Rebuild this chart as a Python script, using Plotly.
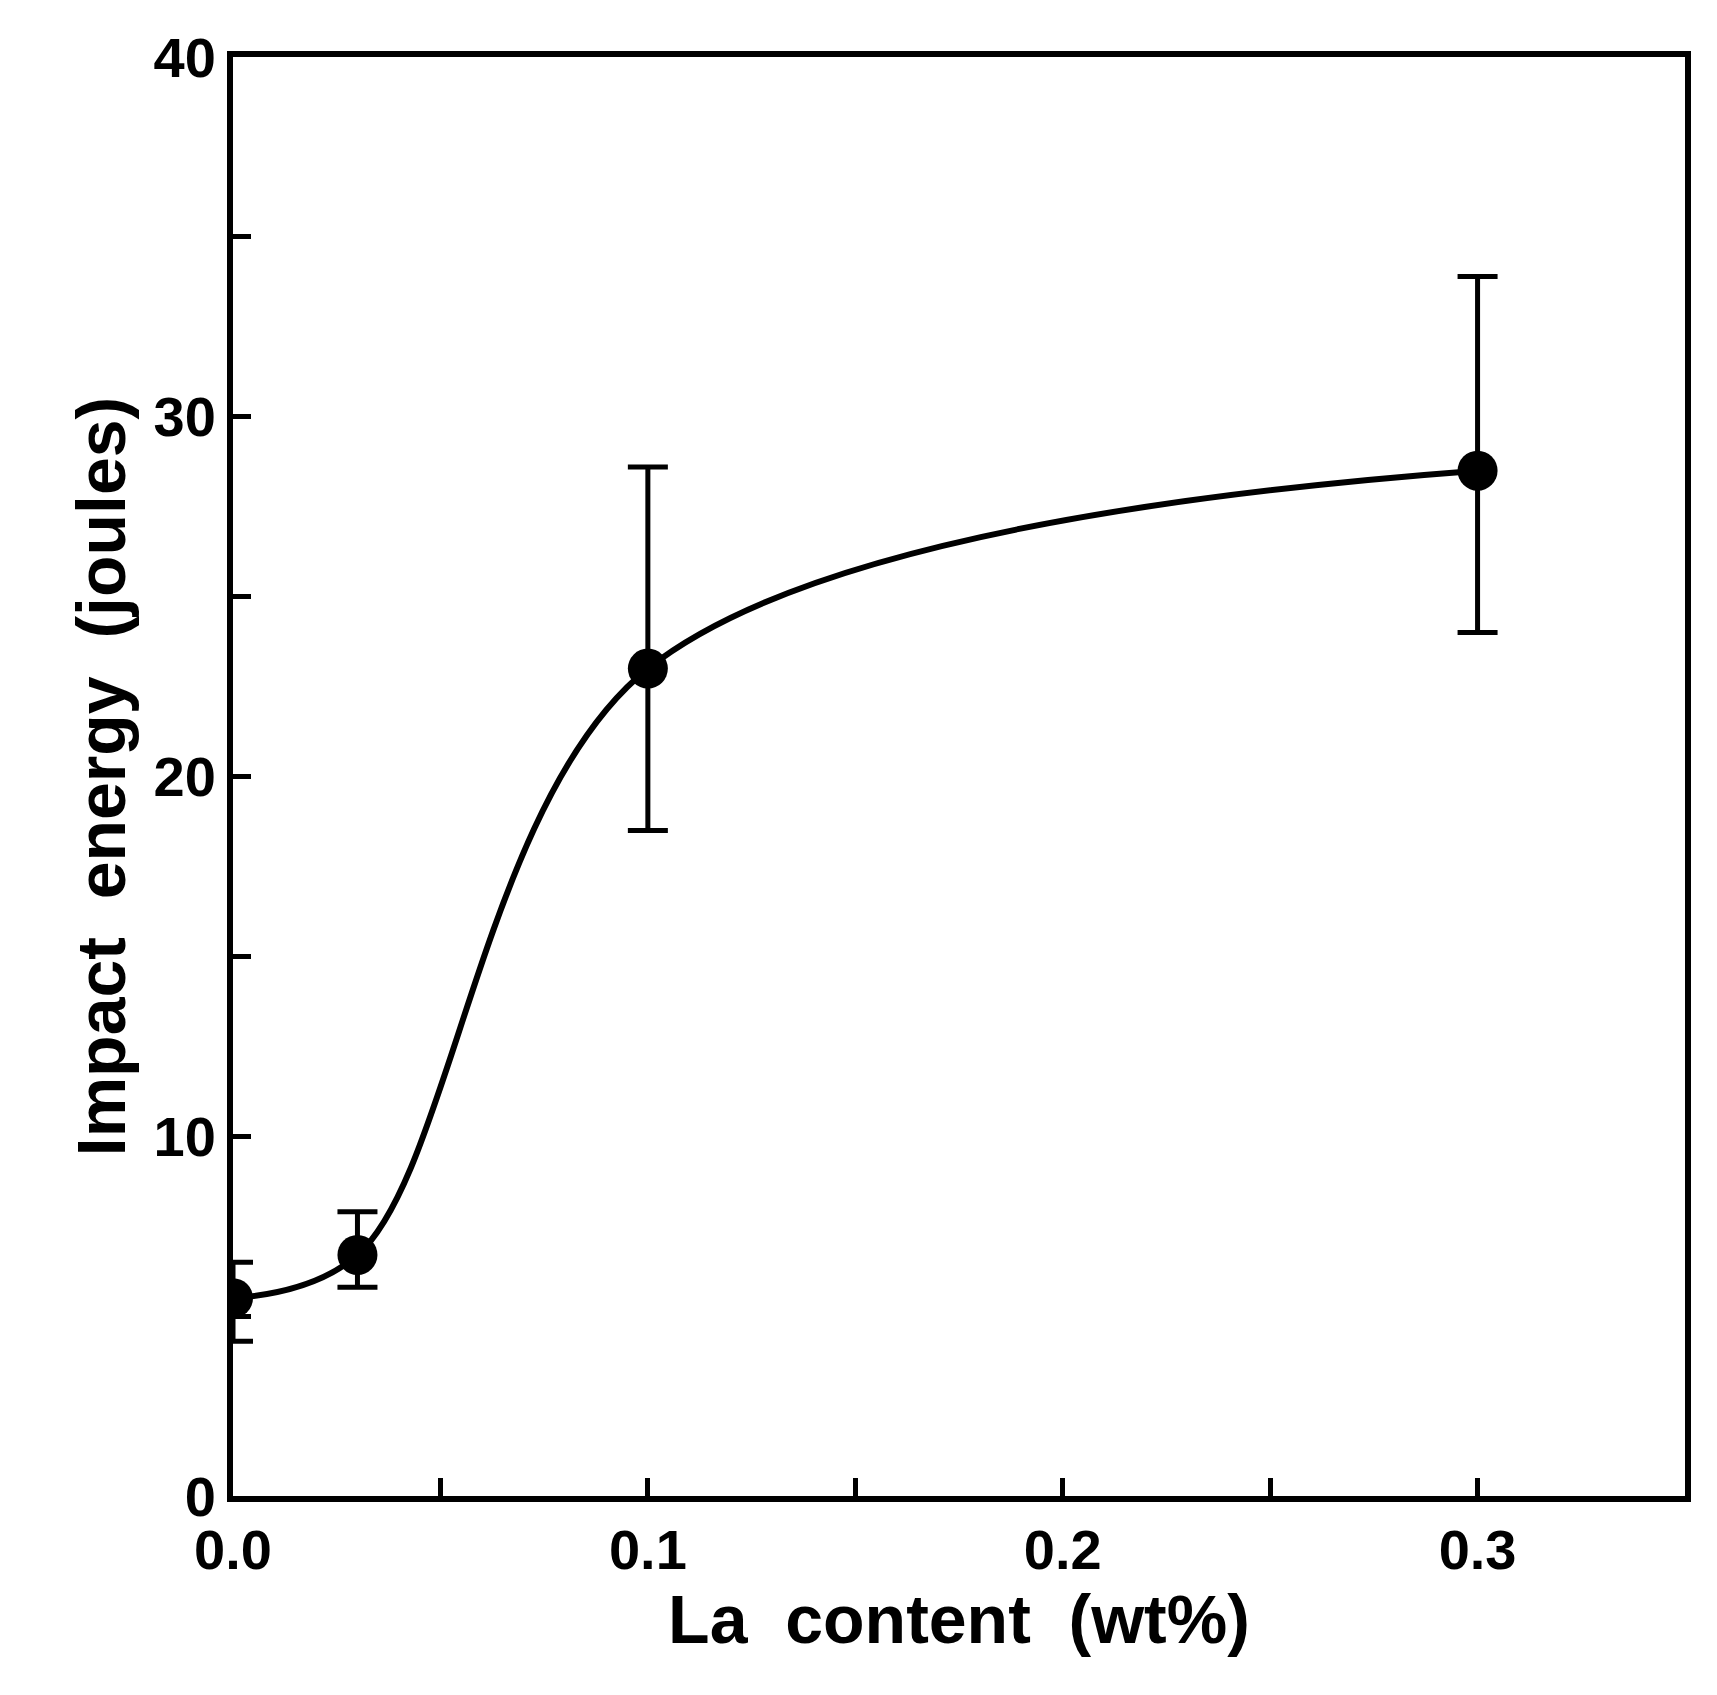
import plotly.graph_objects as go

la = [0.0, 0.03, 0.1, 0.3]
energy = [5.5, 6.7, 23.0, 28.5]
err_plus = [1.0, 1.2, 5.6, 5.4]
err_minus = [1.2, 0.9, 4.5, 4.5]
xticks = [0.0, 0.1, 0.2, 0.3]
xticklabels = ["0.0", "0.1", "0.2", "0.3"]
yticks = [0, 10, 20, 30, 40]

fig = go.Figure()
fig.add_trace(go.Scatter(x=la, y=energy, mode="lines", line=dict(shape="spline", smoothing=1.0, color="black", width=6),
                         hoverinfo="skip"))
fig.add_trace(go.Scatter(x=la, y=energy, mode="markers",
                         marker=dict(size=40, color="black"),
                         error_y=dict(type="data", symmetric=False, array=err_plus, arrayminus=err_minus,
                                      color="black", thickness=5, width=20)))
font = dict(family="Liberation Sans", size=56, color="black", weight="bold")
titlefont = dict(family="Liberation Sans", size=68, color="black", weight="bold")
axcommon = dict(showline=True, linecolor="black", linewidth=6, mirror=True, ticks="inside",
                ticklen=18, tickwidth=5, tickcolor="black", showgrid=False, zeroline=False,
                tickfont=font, minor=dict(ticks="inside", ticklen=18, tickwidth=5, tickcolor="black"))
fig.update_xaxes(range=[0, 0.35], tickvals=xticks, ticktext=xticklabels,
                 minor_dtick=0.05, title=dict(text="La  content  (wt%)", font=titlefont, standoff=8), **axcommon)
fig.update_yaxes(range=[0, 40], tickvals=yticks, minor_dtick=5,
                 title=dict(text="Impact  energy  (joules)", font=titlefont, standoff=8), **axcommon)
fig.update_layout(width=1717, height=1695, margin=dict(l=225, r=40, t=49, b=207),
                  plot_bgcolor="white", paper_bgcolor="white", showlegend=False)
fig.write_html("out.html")
